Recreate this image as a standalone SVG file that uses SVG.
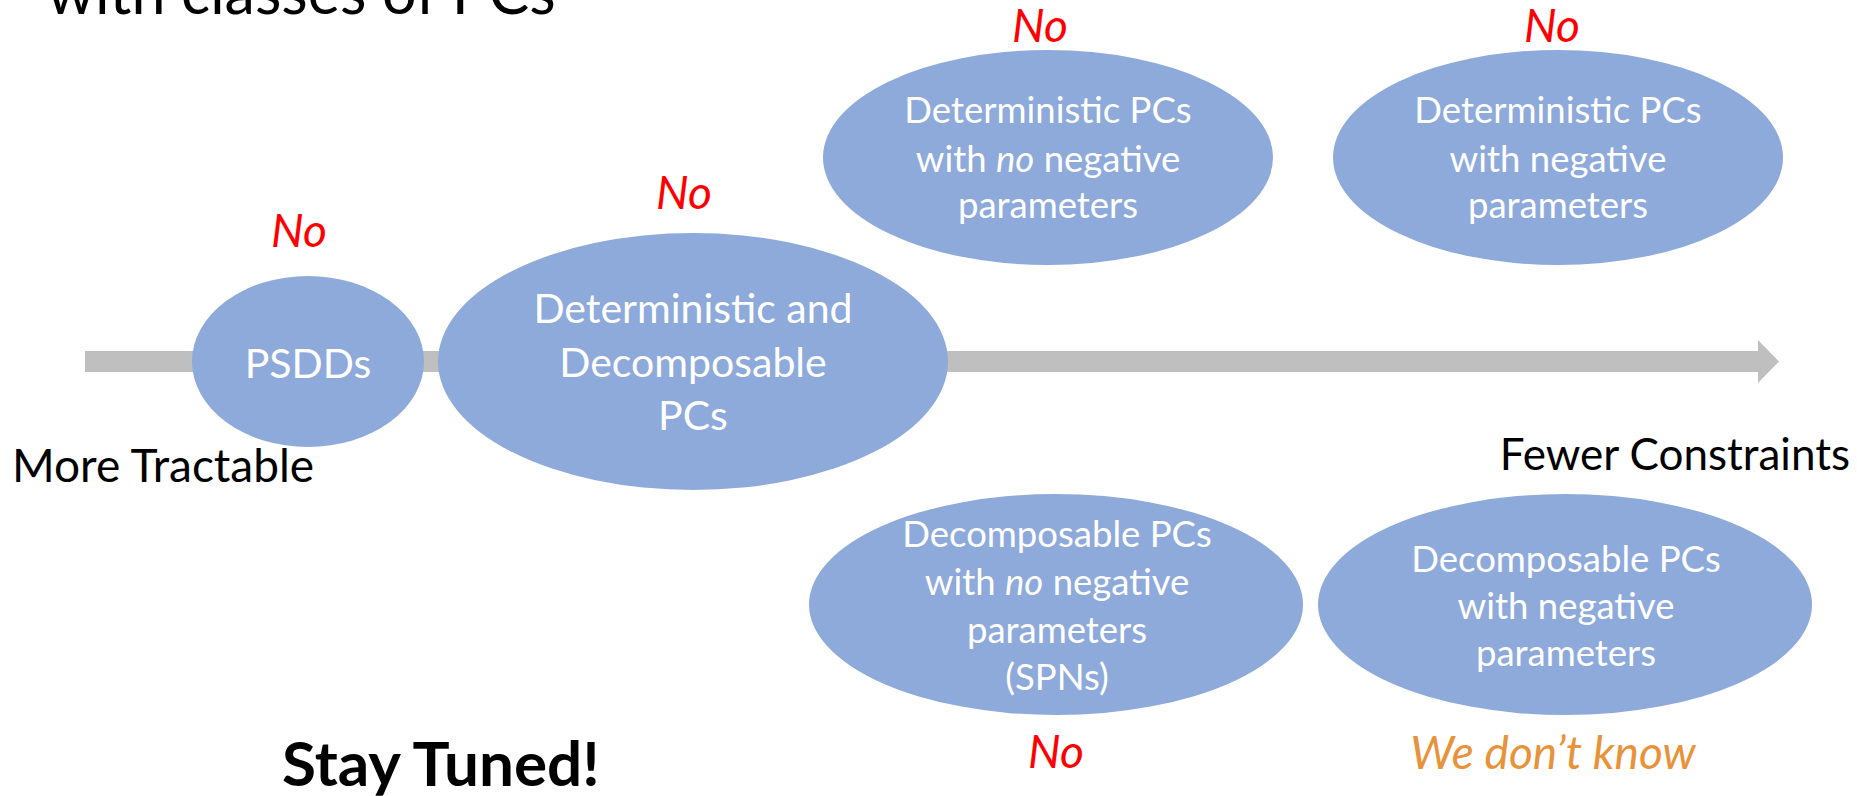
<svg xmlns="http://www.w3.org/2000/svg" width="1857" height="796" viewBox="0 0 1857 796">
<style>
  .node { fill: #8EAADB; }
  .lbl { font-family: Lato, "Open Sans", sans-serif; fill: #FFFFFF; text-anchor: middle; }
  .big { font-size: 41px; }
  .med { font-size: 36.5px; }
  .no { font-family: Lato, "Open Sans", sans-serif; font-style: italic; font-size: 46px; fill: #FF0000; text-anchor: middle; }
  .dk { font-family: Lato, "Open Sans", sans-serif; fill: #000000; }
</style>
<rect width="1857" height="796" fill="#FFFFFF"/>
<text class="dk" x="47" y="14" font-size="61">with classes of PCs</text>

<g id="connectors">
  <path d="M85,351 H1758 V340 L1779,361.5 L1758,383 V372 H85 Z" fill="#BFBFBF"/>
</g>

<g id="psdds">
  <ellipse class="node" cx="308" cy="361.5" rx="116" ry="85.5"/>
  <text class="lbl big" x="308" y="378">PSDDs</text>
</g>
<g id="det-dec">
  <ellipse class="node" cx="693" cy="361.5" rx="255" ry="128.5"/>
  <text class="lbl big" x="693" y="323">Deterministic and</text>
  <text class="lbl big" x="693" y="377">Decomposable</text>
  <text class="lbl big" x="693" y="430">PCs</text>
</g>
<g id="det-nonneg">
  <ellipse class="node" cx="1048" cy="157.5" rx="225" ry="107.5"/>
  <text class="lbl med" x="1048" y="123">Deterministic PCs</text>
  <text class="lbl med" x="1048" y="172">with <tspan font-style="italic">no</tspan> negative</text>
  <text class="lbl med" x="1048" y="218">parameters</text>
</g>
<g id="det-neg">
  <ellipse class="node" cx="1558" cy="157.5" rx="225" ry="107.5"/>
  <text class="lbl med" x="1558" y="123">Deterministic PCs</text>
  <text class="lbl med" x="1558" y="172">with negative</text>
  <text class="lbl med" x="1558" y="218">parameters</text>
</g>
<g id="dec-nonneg">
  <ellipse class="node" cx="1056" cy="604.5" rx="247" ry="110.5"/>
  <text class="lbl med" x="1057" y="547">Decomposable PCs</text>
  <text class="lbl med" x="1057" y="595">with <tspan font-style="italic">no</tspan> negative</text>
  <text class="lbl med" x="1057" y="643">parameters</text>
  <text class="lbl med" x="1057" y="690">(SPNs)</text>
</g>
<g id="dec-neg">
  <ellipse class="node" cx="1565" cy="604.5" rx="247" ry="110.5"/>
  <text class="lbl med" x="1566" y="572">Decomposable PCs</text>
  <text class="lbl med" x="1566" y="619">with negative</text>
  <text class="lbl med" x="1566" y="666">parameters</text>
</g>

<g id="answers">
  <text class="no" x="299" y="247">No</text>
  <text class="no" x="684" y="209">No</text>
  <text class="no" x="1040" y="42">No</text>
  <text class="no" x="1552" y="42">No</text>
  <text class="no" x="1056" y="768">No</text>
  <text class="no" x="1553" y="769" font-size="47" style="fill:#E8923A">We don’t know</text>
</g>

<g id="axis-labels">
  <text class="dk" x="12" y="482" font-size="46">More Tractable</text>
  <text class="dk" x="1850" y="470" font-size="44" text-anchor="end">Fewer Constraints</text>
  <text class="dk" x="282" y="786" font-size="62" font-weight="bold">Stay Tuned!</text>
</g>
</svg>
